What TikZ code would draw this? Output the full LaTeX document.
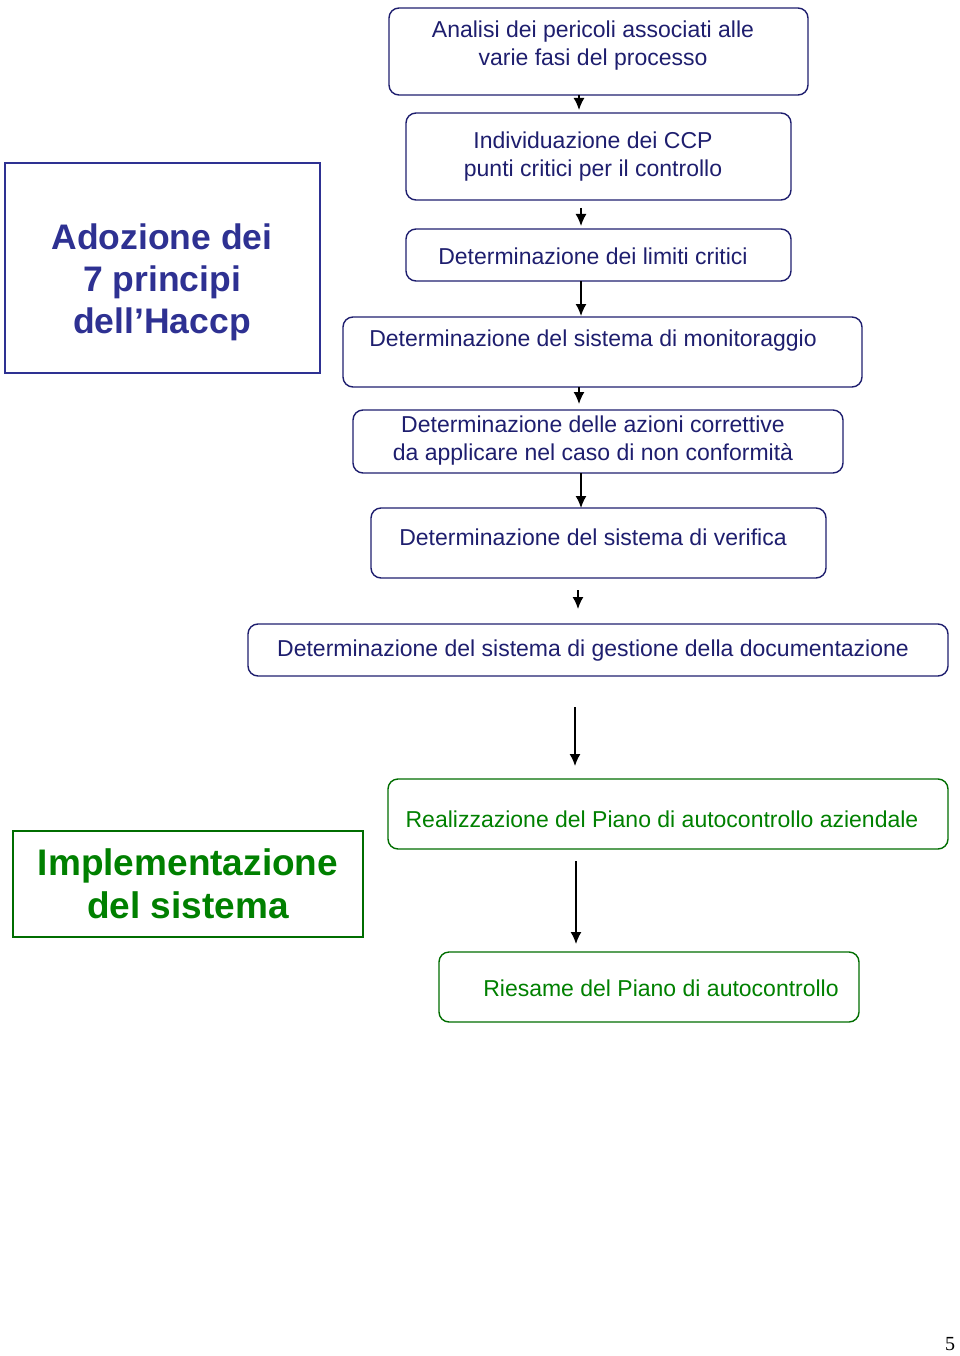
\documentclass[tikz,border=0pt]{standalone}
\usepackage{fontspec}
\setmainfont{Liberation Sans}
\newfontfamily\pagefont{Liberation Serif}
\usetikzlibrary{arrows.meta}
\definecolor{navy}{RGB}{30,30,110}
\definecolor{haccpblue}{RGB}{46,49,146}
\definecolor{impgreen}{RGB}{0,128,0}

\begin{document}
\begin{tikzpicture}[x=1pt,y=-1pt,every node/.style={outer sep=0pt,inner sep=0pt,align=center}]
      \tikzstyle{fase}=[draw=navy,text=navy,line width=1.4pt,rounded corners=10pt,font=\fontsize{23}{28}\selectfont]
      \tikzstyle{faseverde}=[fase,draw=impgreen!85!black,text=impgreen]
      \tikzstyle{testo}=[draw=none,text=navy,font=\fontsize{23}{28}\selectfont]
      \tikzstyle{titolo}=[line width=2pt,font=\bfseries\fontsize{36}{43}\selectfont]
      \tikzstyle{freccia}=[-{Latex[length=12pt,width=11pt]},line width=1.5pt]

      \useasboundingbox (0,0) rectangle (960,1356);

      \node (analisi) [fase,minimum width=419pt,minimum height=87pt] at (598.5,51.5) {};
      \node (analisitxt) [testo] at (593,46) {Analisi dei pericoli associati alle\\varie fasi del processo};
      \node (ccp) [fase,minimum width=385pt,minimum height=87pt] at (598.5,156.5) {};
      \node (ccptxt) [testo] at (593,157) {Individuazione dei CCP\\punti critici per il controllo};
      \node (limiti) [fase,minimum width=385pt,minimum height=52pt] at (598.5,255) {};
      \node (limititxt) [testo] at (593,256) {Determinazione dei limiti critici};
      \node (monit) [fase,minimum width=519pt,minimum height=70pt] at (602.5,352) {};
      \node (monittxt) [testo] at (593,341) {Determinazione del sistema di monitoraggio};
      \node (azioni) [fase,minimum width=490pt,minimum height=63pt] at (598,441.5) {};
      \node (azionitxt) [testo] at (593,441) {Determinazione delle azioni correttive\\da applicare nel caso di non conformità};
      \node (verifica) [fase,minimum width=455pt,minimum height=70pt] at (598.5,543) {};
      \node (verificatxt) [testo] at (593,537) {Determinazione del sistema di verifica};
      \node (docum) [fase,minimum width=700pt,minimum height=52pt] at (598,650) {};
      \node (documtxt) [testo] at (593,651) {Determinazione del sistema di gestione della documentazione};

      \node (piano) [faseverde,minimum width=560pt,minimum height=70pt] at (668,814) {};
      \node (pianotxt) [testo,text=impgreen] at (662,819) {Realizzazione del Piano di autocontrollo aziendale};
      \node (riesame) [faseverde,minimum width=420pt,minimum height=70pt] at (649,987) {};
      \node (riesametxt) [testo,text=impgreen] at (661,988) {Riesame del Piano di autocontrollo};

      \node (haccp) [draw=haccpblue,line width=2pt,minimum width=315pt,minimum height=210pt] at (162.5,268) {};
      \node (haccptxt) [titolo,text=haccpblue,font=\bfseries\fontsize{35.5}{42}\selectfont] at (162,282) {Adozione dei\\7 principi\\dell’Haccp};
      \node (impl) [titolo,draw=impgreen!85!black,text=impgreen,minimum width=350pt,minimum height=106pt,font=\bfseries\fontsize{37}{43}\selectfont] at (188,884) {Implementazione\\del sistema};

      \node (pagina) [font=\pagefont\fontsize{20}{24}\selectfont] at (950,1344) {5};

      \coordinate (xa) at (579,0);
      \coordinate (xb) at (581,0);
      \coordinate (xc) at (578,0);
      \coordinate (xd) at (575,0);
      \coordinate (xe) at (576,0);

      \draw [freccia,shorten >=3pt] (analisi.south -| xa) -- (ccp.north -| xa);
      \draw [freccia,shorten <=8pt,shorten >=3pt] (ccp.south -| xb) -- (limiti.north -| xb);
      \draw [freccia,shorten >=1pt] (limiti.south -| xb) -- (monit.north -| xb);
      \draw [freccia,shorten >=6pt] (monit.south -| xa) -- (azioni.north -| xa);
      \draw [freccia] (azioni.south -| xb) -- (verifica.north -| xb);
      \draw [freccia,shorten <=12pt,shorten >=15pt] (verifica.south -| xc) -- (docum.north -| xc);
      \draw [freccia,shorten <=31pt,shorten >=13pt] (docum.south -| xd) -- (piano.north -| xd);
      \draw [freccia,shorten <=12pt,shorten >=8pt] (piano.south -| xe) -- (riesame.north -| xe);
    \end{tikzpicture}
\end{document}
